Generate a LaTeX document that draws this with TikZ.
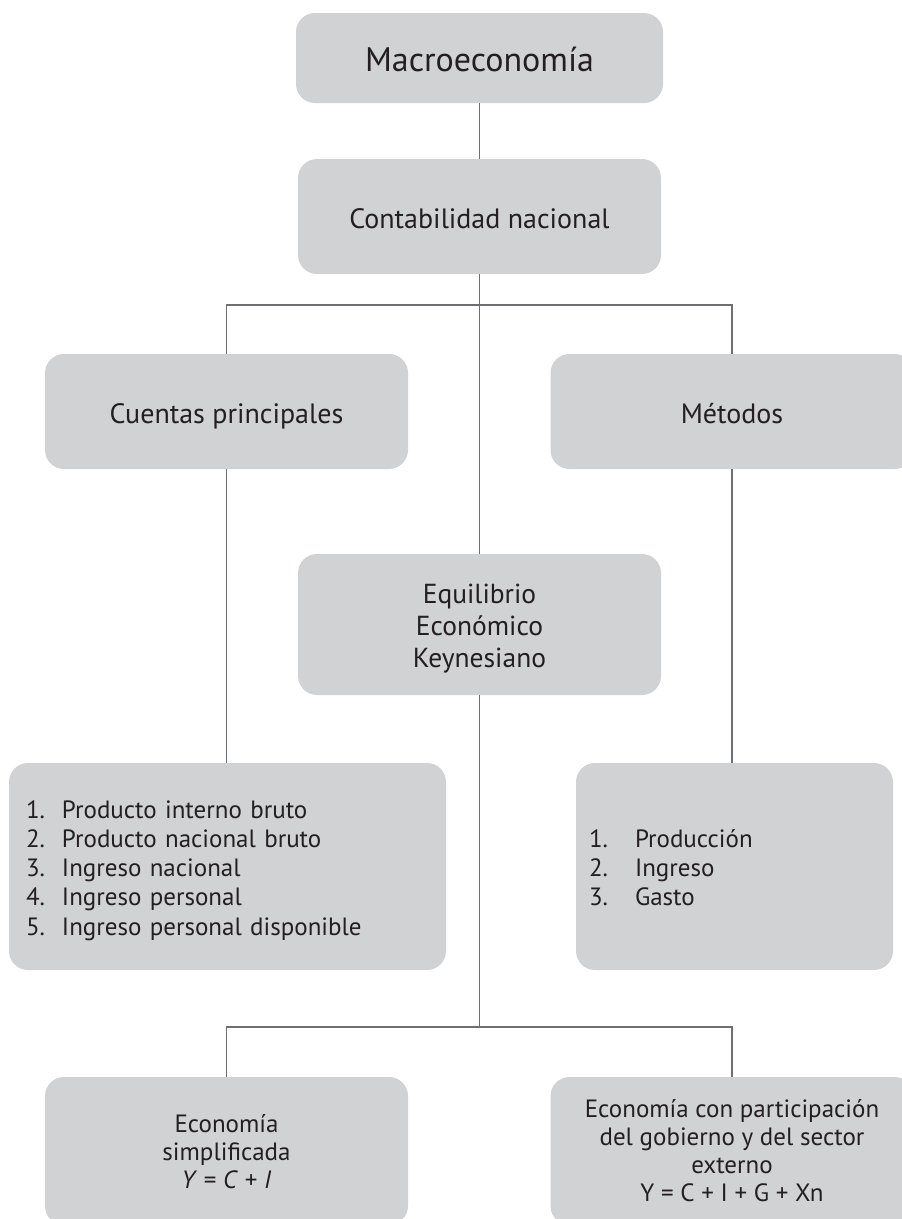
\documentclass[tikz,border=0pt]{standalone}
\usepackage{fontspec}
\setmainfont{PT Sans}
\definecolor{boxgray}{RGB}{209,210,212}
\definecolor{linegray}{RGB}{110,111,114}
\definecolor{txt}{RGB}{35,31,32}
\newcommand{\itm}[2]{\makebox[#1][l]{#2}}
\newcommand{\hs}[1]{\rule{0pt}{#1}}
\newcommand{\ds}[1]{\rule[-#1]{0pt}{#1}}
\begin{document}
\begin{tikzpicture}[x=1pt,y=-1pt,
  box/.style={fill=boxgray, rounded corners=19pt, inner sep=0pt, text=txt, align=center, font=\fontsize{28}{32}\selectfont},
  conn/.style={draw=linegray, line width=1.2pt}]
\useasboundingbox (0,0) rectangle (902,1219);
\clip (0,0) rectangle (902,1219);
% boxes
\node[box, minimum width=367pt, minimum height=90pt, font=\fontsize{34}{38}\selectfont] (macro) at (479.5,58) {\hs{34pt}Macroeconomía\ds{8pt}};
\node[box, minimum width=363pt, minimum height=115pt] (contab) at (479.5,216.5) {\hs{31pt}Contabilidad nacional\ds{8pt}};
\node[box, minimum width=363pt, minimum height=115pt] (cuentas) at (226.5,411.5) {\hs{31pt}Cuentas principales\ds{8pt}};
\node[box, minimum width=363pt, minimum height=115pt] (metodos) at (732,411.5) {\hs{31pt}Métodos\ds{8pt}};
\node[box, minimum width=363pt, minimum height=141pt, font=\fontsize{27.5}{32}\selectfont] (equil) at (479.5,624.5) {\hs{29pt}Equilibrio\\Económico\\Keynesiano\ds{8pt}};
\node[box, minimum width=437pt, minimum height=207pt, text width=403pt, align=left, inner xsep=17pt, font=\fontsize{25}{29.25}\selectfont] (lista) at (227.5,866.5)
  {\hs{28pt}\itm{36pt}{1.}Producto interno bruto\\
   \itm{36pt}{2.}Producto nacional bruto\\
   \itm{36pt}{3.}Ingreso nacional\\
   \itm{36pt}{4.}Ingreso personal\\
   \itm{36pt}{5.}Ingreso personal disponible\ds{8pt}};
\node[box, minimum width=317pt, minimum height=207pt, text width=291pt, align=left, inner xsep=13pt, font=\fontsize{25}{29}\selectfont] (listb) at (734.5,866.5)
  {\hs{27pt}\itm{46pt}{1.}Producción\\
   \itm{46pt}{2.}Ingreso\\
   \itm{46pt}{3.}Gasto\ds{8pt}};
\node[box, minimum width=363pt, minimum height=148pt, font=\fontsize{25}{28}\selectfont] (simpl) at (226.5,1151)
  {\hs{26pt}Economía\\simplificada\\\textit{Y} = \textit{C} + \textit{I}\ds{8pt}};
\node[box, minimum width=363pt, minimum height=148pt, font=\fontsize{25}{28.3}\selectfont] (gob) at (732,1151)
  {\hs{25pt}Economía con participación\\del gobierno y del sector\\externo\\Y = C + I + G + Xn\ds{8pt}};
% connectors
\coordinate (j1) at (479.5,305);
\coordinate (j2) at (479.5,1027);
\draw[conn] (macro.south) -- (contab.north);
\draw[conn] (contab.south) -- (j1);
\draw[conn] (cuentas.north) |- (j1) -| (metodos.north);
\draw[conn] (j1) -- (equil.north);
\draw[conn] (cuentas.south) -- (lista.north -| cuentas.south);
\draw[conn] (metodos.south) -- (listb.north -| metodos.south);
\draw[conn] (equil.south) -- (j2);
\draw[conn] (simpl.north) |- (j2) -| (gob.north);
\end{tikzpicture}
\end{document}
